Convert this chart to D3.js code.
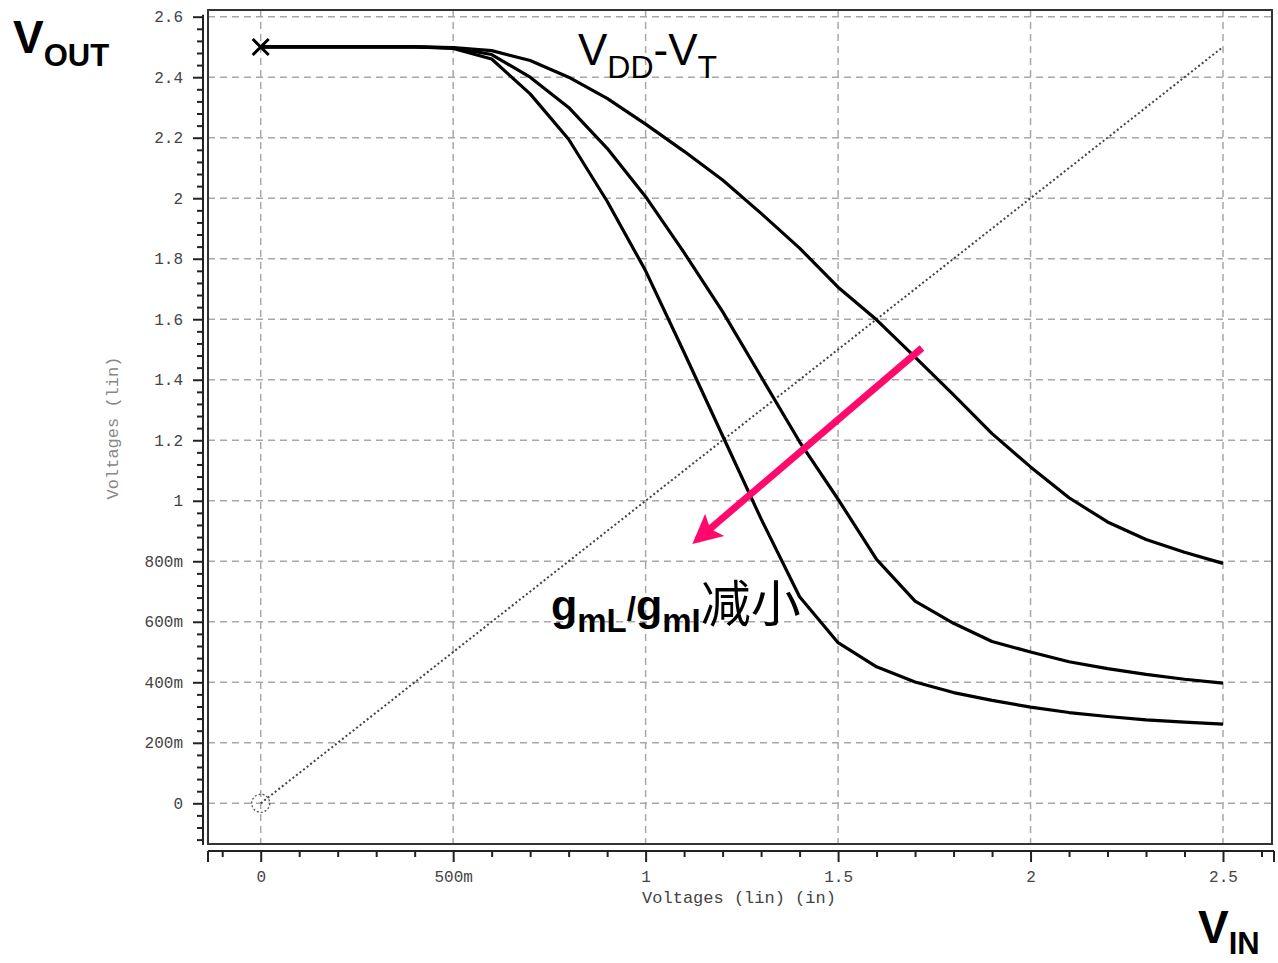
<!DOCTYPE html>
<html>
<head>
<meta charset="utf-8">
<script src="https://cdn.jsdelivr.net/npm/d3@7"></script>
<style>
  body { margin: 0; background: #fff; }
  svg { display: block; }
</style>
</head>
<body>
<div id="chart"></div>
<script>
const vin = [0, 0.1, 0.2, 0.3, 0.4, 0.5, 0.6, 0.7, 0.8, 0.9, 1.0, 1.1, 1.2, 1.3, 1.4,
             1.5, 1.6, 1.7, 1.8, 1.9, 2.0, 2.1, 2.2, 2.3, 2.4, 2.5];
const voutHigh = [2.5, 2.5, 2.5, 2.5, 2.5, 2.498, 2.488, 2.455, 2.40, 2.33, 2.245, 2.155, 2.06,
                  1.95, 1.835, 1.706, 1.598, 1.475, 1.35, 1.222, 1.112, 1.01, 0.93, 0.872, 0.83, 0.793];
const voutMid = [2.5, 2.5, 2.5, 2.5, 2.5, 2.497, 2.475, 2.40, 2.30, 2.165, 2.005, 1.82, 1.625,
                 1.41, 1.195, 1.005, 0.806, 0.668, 0.595, 0.535, 0.50, 0.468, 0.445, 0.426, 0.41, 0.397];
const voutLow = [2.5, 2.5, 2.5, 2.5, 2.5, 2.495, 2.46, 2.345, 2.195, 1.99, 1.76, 1.49, 1.215,
                 0.94, 0.683, 0.531, 0.451, 0.401, 0.366, 0.34, 0.318, 0.30, 0.287, 0.276, 0.268, 0.262];
const xTicks = [0, 0.5, 1, 1.5, 2, 2.5];
const xTickLabels = ["0", "500m", "1", "1.5", "2", "2.5"];
const yTicks = [0, 0.2, 0.4, 0.6, 0.8, 1, 1.2, 1.4, 1.6, 1.8, 2, 2.2, 2.4, 2.6];
const yTickLabels = ["0", "200m", "400m", "600m", "800m", "1", "1.2", "1.4", "1.6", "1.8", "2", "2.2", "2.4", "2.6"];

const width = 1278, height = 963;
const frame = { left: 208, right: 1272, top: 10, bottom: 844 };

const svg = d3.select("#chart").append("svg")
    .attr("width", width)
    .attr("height", height);

const x = d3.scaleLinear().domain([0, 2.5]).range([260.7, 1223]);
const y = d3.scaleLinear().domain([0, 2.6]).range([803.3, 16.7]);

const mono = "'Liberation Mono', 'DejaVu Sans Mono', monospace";
const sans = "'Liberation Sans', Arial, sans-serif";

// --- grid ---
const grid = svg.append("g").attr("stroke", "#a8a8a8").attr("stroke-width", 1.5)
    .attr("stroke-dasharray", "7,5");
grid.selectAll("line.h").data(yTicks).join("line")
    .attr("class", "h")
    .attr("x1", frame.left).attr("x2", frame.right)
    .attr("y1", d => y(d)).attr("y2", d => y(d));
grid.selectAll("line.v").data(xTicks).join("line")
    .attr("class", "v")
    .attr("x1", d => x(d)).attr("x2", d => x(d))
    .attr("y1", frame.top).attr("y2", frame.bottom);

// frame
svg.append("rect")
    .attr("x", frame.left).attr("y", frame.top)
    .attr("width", frame.right - frame.left).attr("height", frame.bottom - frame.top)
    .attr("fill", "none").attr("stroke", "#333").attr("stroke-width", 2);

// --- y axis (outside frame) ---
const yAxisX = 203;
const yMinor = d3.range(-3, 66).filter(i => i % 5 !== 0).map(i => i * 0.04);
svg.append("line")
    .attr("x1", yAxisX).attr("x2", yAxisX)
    .attr("y1", y(2.6) - 2).attr("y2", frame.bottom + 1)
    .attr("stroke", "#222").attr("stroke-width", 2);

const yAxisMinor = svg.append("g")
    .attr("transform", `translate(${yAxisX},0)`)
    .call(d3.axisLeft(y).tickValues(yMinor).tickSize(6).tickFormat(""));
yAxisMinor.select(".domain").remove();
yAxisMinor.selectAll("line").attr("stroke", "#222").attr("stroke-width", 2);

const yAxis = svg.append("g")
    .attr("transform", `translate(${yAxisX},0)`)
    .call(d3.axisLeft(y).tickValues(yTicks).tickSize(10).tickPadding(10)
        .tickFormat((d, i) => yTickLabels[i]));
yAxis.select(".domain").remove();
yAxis.selectAll("line").attr("stroke", "#222").attr("stroke-width", 2);
yAxis.selectAll("text")
    .attr("font-family", mono).attr("font-size", "16px").attr("fill", "#444");

// --- x axis (below frame) ---
const xAxisY = 851;
const xMinor = d3.range(-1, 27).filter(i => i % 5 !== 0).map(i => i * 0.1);
svg.append("line")
    .attr("x1", frame.left).attr("x2", frame.right + 2)
    .attr("y1", xAxisY).attr("y2", xAxisY)
    .attr("stroke", "#222").attr("stroke-width", 2);
svg.selectAll("line.cap").data([frame.left, frame.right + 2]).join("line")
    .attr("class", "cap")
    .attr("x1", d => d).attr("x2", d => d)
    .attr("y1", xAxisY).attr("y2", xAxisY + 11)
    .attr("stroke", "#222").attr("stroke-width", 2);

const xAxisMinor = svg.append("g")
    .attr("transform", `translate(0,${xAxisY})`)
    .call(d3.axisBottom(x).tickValues(xMinor).tickSize(6).tickFormat(""));
xAxisMinor.select(".domain").remove();
xAxisMinor.selectAll("line").attr("stroke", "#222").attr("stroke-width", 2);

const xAxis = svg.append("g")
    .attr("transform", `translate(0,${xAxisY})`)
    .call(d3.axisBottom(x).tickValues(xTicks).tickSize(11).tickPadding(9)
        .tickFormat((d, i) => xTickLabels[i]));
xAxis.select(".domain").remove();
xAxis.selectAll("line").attr("stroke", "#222").attr("stroke-width", 2);
xAxis.selectAll("text")
    .attr("font-family", mono).attr("font-size", "16px").attr("fill", "#444");

// axis titles
svg.append("text")
    .attr("x", 739).attr("y", 903)
    .attr("text-anchor", "middle")
    .attr("font-family", mono).attr("font-size", "17px").attr("fill", "#444")
    .text("Voltages (lin) (in)");
svg.append("text")
    .attr("transform", "translate(118,428) rotate(-90)")
    .attr("text-anchor", "middle")
    .attr("font-family", mono).attr("font-size", "17px").attr("fill", "#888")
    .text("Voltages (lin)");

// --- diagonal Vout = Vin ---
svg.append("line")
    .attr("x1", x(0)).attr("y1", y(0))
    .attr("x2", x(2.5)).attr("y2", y(2.5))
    .attr("stroke", "#444").attr("stroke-width", 2)
    .attr("stroke-dasharray", "2,2.5");
svg.append("circle")
    .attr("cx", x(0)).attr("cy", y(0)).attr("r", 9)
    .attr("fill", "none").attr("stroke", "#555").attr("stroke-width", 1.3)
    .attr("stroke-dasharray", "2,2");

// --- transfer curves ---
const line = d3.line().x((d, i) => x(vin[i])).y(d => y(d));
svg.append("g").selectAll("path")
    .data([voutHigh, voutMid, voutLow])
    .join("path")
    .attr("d", line)
    .attr("fill", "none")
    .attr("stroke", "#000")
    .attr("stroke-width", 3.2)
    .attr("stroke-linejoin", "round");

// start marker
const mx = x(0), my = y(2.5), ms = 8;
svg.append("path")
    .attr("d", `M${mx - ms},${my - ms}L${mx + ms},${my + ms}M${mx - ms},${my + ms}L${mx + ms},${my - ms}`)
    .attr("stroke", "#000").attr("stroke-width", 3);

// --- pink arrow ---
const arrowFrom = [1.718, 1.505], arrowTo = [1.133, 0.870];
const defs = svg.append("defs");
defs.append("marker")
    .attr("id", "arrowhead")
    .attr("viewBox", "0 0 10 10")
    .attr("refX", 8).attr("refY", 5)
    .attr("markerWidth", 4.6).attr("markerHeight", 4.2)
    .attr("markerUnits", "strokeWidth")
    .attr("orient", "auto")
    .append("path")
    .attr("d", "M0,0L10,5L0,10L2,5Z")
    .attr("fill", "#ff0a6c");
svg.append("line")
    .attr("x1", x(arrowFrom[0])).attr("y1", y(arrowFrom[1]))
    .attr("x2", x(arrowTo[0])).attr("y2", y(arrowTo[1]))
    .attr("stroke", "#ff0a6c").attr("stroke-width", 7)
    .attr("marker-end", "url(#arrowhead)");

// --- labels ---
const vout = svg.append("text").attr("x", 13).attr("y", 53)
    .attr("font-family", sans).attr("font-weight", "bold").attr("fill", "#000");
vout.append("tspan").attr("font-size", "46px").text("V");
vout.append("tspan").attr("font-size", "31px").attr("dy", 13).text("OUT");

const vinLabel = svg.append("text").attr("x", 1198).attr("y", 943)
    .attr("font-family", sans).attr("font-weight", "bold").attr("fill", "#000");
vinLabel.append("tspan").attr("font-size", "46px").text("V");
vinLabel.append("tspan").attr("font-size", "31px").attr("dy", 11).text("IN");

const vddvt = svg.append("text").attr("x", 578).attr("y", 65)
    .attr("font-family", sans).attr("fill", "#000");
vddvt.append("tspan").attr("font-size", "44px").text("V");
vddvt.append("tspan").attr("font-size", "32px").attr("dy", 13).text("DD");
vddvt.append("tspan").attr("font-size", "44px").attr("dy", -13).text("-V");
vddvt.append("tspan").attr("font-size", "32px").attr("dy", 13).text("T");

const gm = svg.append("text").attr("x", 551).attr("y", 620)
    .attr("font-family", sans).attr("font-weight", "bold").attr("fill", "#000");
gm.append("tspan").attr("font-size", "43px").text("g");
gm.append("tspan").attr("font-size", "33px").attr("dy", 12).text("mL");
gm.append("tspan").attr("font-size", "33px").attr("dy", -12).text("/");
gm.append("tspan").attr("font-size", "43px").text("g");
gm.append("tspan").attr("font-size", "33px").attr("dy", 12).text("mI");
gm.append("tspan").attr("font-size", "50px").attr("dy", -10)
    .attr("font-family", "'Noto Sans CJK SC', sans-serif").attr("font-weight", "normal")
    .text("减小");
</script>
</body>
</html>
